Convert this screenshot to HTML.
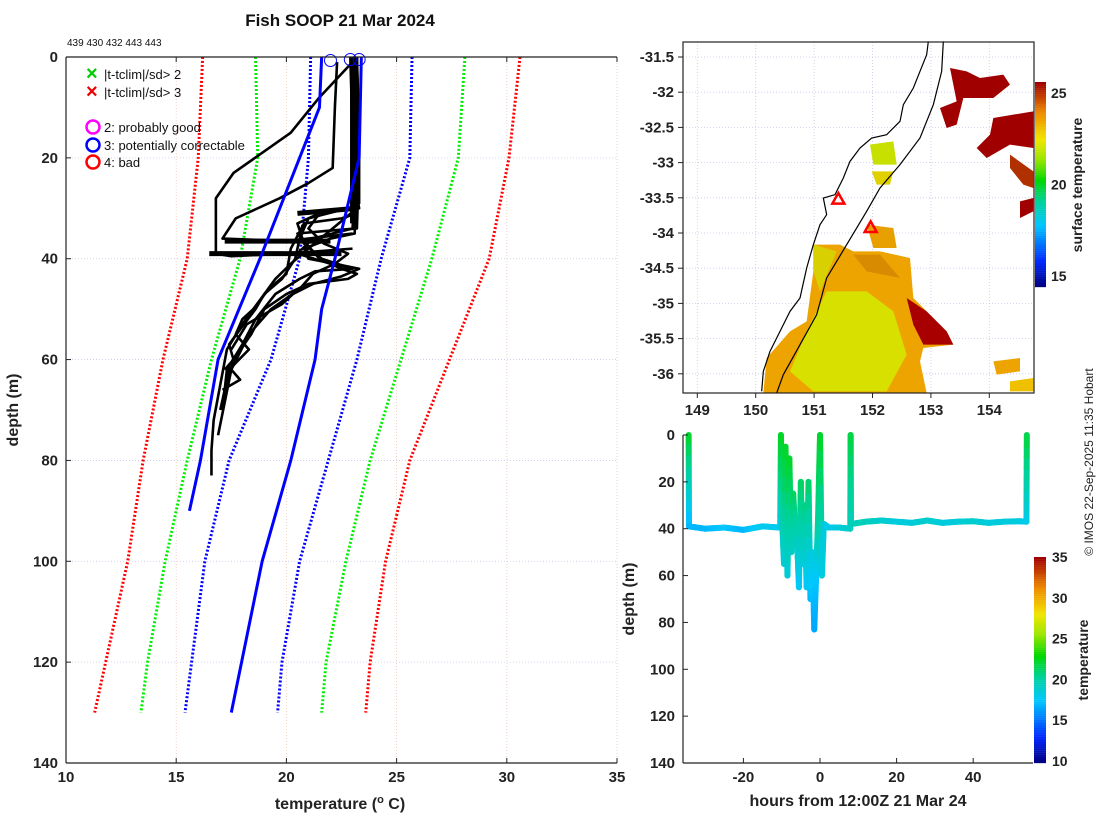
<!DOCTYPE html>
<html><head><meta charset="utf-8"><style>
html,body{margin:0;padding:0;background:#fff;}
svg{display:block;font-family:"Liberation Sans","DejaVu Sans",sans-serif;}
</style></head><body>
<svg id="fig" width="1100" height="820" viewBox="0 0 1100 820"></svg>
<script>
// ---------- data: main profile panel ----------
const climDepths = [0,20,40,60,80,100,120,130];
const climRedLo   = [16.2,16.0,15.5,14.4,13.5,12.8,11.8,11.3];
const climGreenLo = [18.6,18.7,17.9,16.6,15.5,14.5,13.7,13.4];
const climBlueLo  = [21.1,21.0,20.6,19.3,17.4,16.3,15.7,15.4];
const climBlueHi  = [25.7,25.6,24.3,23.2,21.9,20.6,19.8,19.6];
const climGreenHi = [28.1,27.8,26.6,25.2,23.8,22.7,21.8,21.6];
const climRedHi   = [30.6,30.1,29.2,27.4,25.6,24.5,23.8,23.6];
const blueProfileA_t = [21.6,21.5,20.6,18.8,16.9,16.1,15.6];
const blueProfileA_d = [0,10,20,40,60,80,90];
const blueProfileB_t = [23.4,23.3,22.2,21.6,21.3,20.2,18.9,17.5];
const blueProfileB_d = [0,20,40,50,60,80,100,130];
const profTemps = [
 [23,21.5,20.2,17.6,16.8,16.8,17.5,20,23],
 [22.3,22.2,22.1,21,19.7,17.7,17.1,20,23],
 [23.1,23.2,23.2,23.0,21.5,20.5,20.8,21.6,22.3,23.0],
 [23.2,23.3,23.3,22.8,21.0,20.6,20.4,19.8,19.0,18.6,17.9,17.4,17.6,17.2],
 [23.0,23.1,23.2,22.5,20.8,20.2,20.0,19.2,18.5,18.0,17.3,17.0,16.7,16.6,16.6],
 [23.2,23.3,23.2,21.8,20.5,21.5,22.5,23.2,22.8,21,20,19,18.4,17.6,17.5,17.9,17.1],
 [23.1,23.2,23.1,22.0,20.8,21.0,22.2,23.3,22.5,21.2,20.3,19.8,18.2,17.5],
 [23.0,23.1,23.2,21.0,20.2,19.5,19.0,18.5,18.0,17.7,18.3,17.4,17.0],
 [22.9,23.0,23.1,23.3,21.5,21.0,21.7,22.8,22.2,21.2,20.6,19.3,18.3,17.5,16.9],
 [23.2,23.2,23.0,21.2,20.5,22.0,23.0,21.3,20.6,19.5,18.6,18.0,17.3,17.1]
];
const profDepths = [
 [1,8,15,23,28,39,39.5,39,38],
 [1,10,22,25,28,32,36,36.5,35],
 [0,10,28,30,31,33,37,40,41,42],
 [0,15,29,30,32,36,40,44,47,50,54,57,60,62],
 [0,10,31,32,33,38,43,46,50,53,58,65,72,78,83],
 [0,20,34,34.5,35,40,42,43,44,45,47,50,55,60,62,64,66],
 [0,12,35,36,38,40,41,42,43.5,45,47,49,53,58],
 [0,10,30,38,41,44,47,50,52,55,58,62,70],
 [0,15,25,30,31,34,37,39,41,43,46,50,55,62,75],
 [0,20,34,36,39,41,42,42.5,44,47,52,57,62,70]
];
const flagTemps = [22.0,22.9,23.3];
const flagDepths = [0.7,0.5,0.5];
const xTicks = [10,15,20,25,30,35];
const yTicks = [0,20,40,60,80,100,120,140];
// ---------- data: bottom time-depth panel ----------
const trHours = [-34.3,-34.2,-30,-25,-20,-15,-10.4,-10.2,-9.8,-9.4,-9,-8.5,-8,-7.5,-7,-6.5,-6,-5.5,-5,-4.5,-4,-3.5,-3,-2.5,-2,-1.5,-1,-0.5,0,0.5,1,1.5,2.2,5,7.9,8,8.1,12,16,20,24,28,32,36,40,44,48,52,53.9,54];
const trDepths = [0,39,40,39.5,40.5,39,39.5,0,40,55,5,60,10,50,25,40,45,65,20,55,30,65,20,70,50,83,60,35,0,60,38,38.5,39.5,39.5,40,0,38,37,36.5,37,37.5,36.5,37.5,37,36.8,37.5,37,36.8,37,0];
const trTemps = [22.5,17,17,17.5,17,18,18,22.5,19.5,18.5,22.5,18.5,22.5,19,21.5,20,19.5,17.5,21.5,18.5,21,17.5,21.5,17,18.5,16.5,17.5,20.5,22.5,18.5,18.5,18.5,18,18.5,19,22,19.5,19.5,19,18.5,18.5,19,18.5,18.5,19,18.5,18.5,18.5,18,22];
const hrTicks = [-20,0,20,40];
const dTicks = [0,20,40,60,80,100,120,140];
const mapLonTicks = [149,150,151,152,153,154];
const mapLatTicks = [-31.5,-32,-32.5,-33,-33.5,-34,-34.5,-35,-35.5,-36];
const cb1Ticks = [15,20,25];
const cb2Ticks = [10,15,20,25,30,35];

const NS="http://www.w3.org/2000/svg";
const svg=document.getElementById('fig');
function mk(tag,attrs,parent){const e=document.createElementNS(NS,tag);for(const k in attrs)e.setAttribute(k,attrs[k]);(parent||svg).appendChild(e);return e;}
function txt(s,attrs,parent){const e=mk('text',attrs,parent);e.textContent=s;return e;}
function jet(v){
 const st=[[0,[0,0,130]],[0.12,[0,40,255]],[0.3,[0,200,255]],[0.42,[0,210,150]],[0.52,[0,215,0]],[0.62,[150,230,0]],[0.72,[240,230,0]],[0.85,[240,140,0]],[1,[160,0,0]]];
 v=Math.max(0,Math.min(1,v));
 for(let i=1;i<st.length;i++){if(v<=st[i][0]){const a=st[i-1],b=st[i];const f=(v-a[0])/(b[0]-a[0]);const c=a[1].map((x,j)=>Math.round(x+(b[1][j]-x)*f));return `rgb(${c})`;}}
 return 'rgb(160,0,0)';
}
const TB={'font-size':15,'font-weight':'bold',fill:'#222'};
// ===== main panel =====
const X0=66,X1=617,Y0=57,Y1=763;
const sx=t=>X0+(t-10)/(35-10)*(X1-X0);
const sy=d=>Y0+d/140*(Y1-Y0);
const gMain=mk('g',{});


xTicks.forEach(t=>{const l=mk('line',{x1:sx(t),x2:sx(t),y1:Y0,y2:Y1,stroke:'#e8c8b8','stroke-width':0.8,'stroke-dasharray':'1 2'},gMain);
 
 const tl=txt(t,Object.assign({x:sx(t),y:782,'text-anchor':'middle'},TB),gMain);
 
 mk('line',{x1:sx(t),x2:sx(t),y1:Y1,y2:Y1-5,stroke:'#222'},gMain);mk('line',{x1:sx(t),x2:sx(t),y1:Y0,y2:Y0+5,stroke:'#222'},gMain);});
yTicks.forEach(d=>{const l=mk('line',{x1:X0,x2:X1,y1:sy(d),y2:sy(d),stroke:'#c8c8e8','stroke-width':0.8,'stroke-dasharray':'1 2'},gMain);
 
 const tl=txt(d,Object.assign({x:58,y:sy(d)+5,'text-anchor':'end'},TB),gMain);
 
 mk('line',{x1:X0,x2:X0+5,y1:sy(d),y2:sy(d),stroke:'#222'},gMain);});
function pl(ts,ds,attrs,name){const p=mk('polyline',Object.assign({points:ts.map((t,i)=>sx(t)+','+sy(ds[i])).join(' '),fill:'none'},attrs),gMain);
 return p;}
const dot={'stroke-width':3,'stroke-dasharray':'2 2'};
pl(climRedLo,climDepths,Object.assign({stroke:'#f00'},dot),'clim-minus-3sd');
pl(climGreenLo,climDepths,Object.assign({stroke:'#0e0'},dot),'clim-minus-2sd');
pl(climBlueLo,climDepths,Object.assign({stroke:'#00f'},dot),'clim-minus-1sd');
pl(climBlueHi,climDepths,Object.assign({stroke:'#00f'},dot),'clim-plus-1sd');
pl(climGreenHi,climDepths,Object.assign({stroke:'#0e0'},dot),'clim-plus-2sd');
pl(climRedHi,climDepths,Object.assign({stroke:'#f00'},dot),'clim-plus-3sd');
profTemps.forEach((ts,i)=>{pl(ts,profDepths[i],{stroke:'#000','stroke-width':2.6,'stroke-linejoin':'round'},'xbt-profile');});
pl([16.5,22.5],[39,39],{stroke:'#000','stroke-width':5},'profile-step');
pl([17.2,22.0],[36.5,36.5],{stroke:'#000','stroke-width':5},'profile-step');
pl([20.5,23.2],[31,30],{stroke:'#000','stroke-width':5},'profile-step');
pl([23.0,23.0],[2,33],{stroke:'#000','stroke-width':5},'profile-step');
pl(blueProfileA_t,blueProfileA_d,{stroke:'#00f','stroke-width':3},'flagged-profile');
pl(blueProfileB_t,blueProfileB_d,{stroke:'#00f','stroke-width':3},'flagged-profile');
flagTemps.forEach((t,i)=>{const c=mk('circle',{cx:sx(t),cy:sy(flagDepths[i]),r:6,fill:'none',stroke:'#00f','stroke-width':1},gMain);
 });
mk('line',{x1:X0,x2:X0,y1:Y0,y2:Y1,stroke:'#222','stroke-width':1.2},gMain);
mk('line',{x1:X0,x2:X1,y1:Y1,y2:Y1,stroke:'#222','stroke-width':1.2},gMain);
mk('line',{x1:X0,x2:X1,y1:Y0,y2:Y0,stroke:'#222','stroke-width':1.2},gMain);
const lg=mk('g',{});
[['×','#0c0','|t-tclim|/sd> 2',74],['×','#e00','|t-tclim|/sd> 3',92]].forEach(r=>{txt(r[0],{x:86,y:r[3]+6,'font-size':20,'font-weight':'bold',fill:r[1]},lg);txt(r[2],{x:104,y:r[3]+5,'font-size':13,fill:'#111'},lg);});
[['#f0f','2: probably good',127],['#00f','3: potentially correctable',145],['#f00','4: bad',162]].forEach(r=>{mk('circle',{cx:93,cy:r[2],r:6.5,fill:'none',stroke:r[0],'stroke-width':2.5},lg);txt(r[1],{x:104,y:r[2]+5,'font-size':13,fill:'#111'},lg);});
const t1=txt('Fish SOOP 21 Mar 2024',{x:340,y:26,'text-anchor':'middle','font-size':17,'font-weight':'bold',fill:'#111'});

const t2=txt('439 430 432 443 443',{x:67,y:46,'font-size':10,fill:'#111'});

const t3=txt('depth (m)',{x:18,y:410,'text-anchor':'middle','font-size':16,'font-weight':'bold',fill:'#222',transform:'rotate(-90 18 410)'});

const t4=mk('text',{x:340,y:809,'text-anchor':'middle','font-size':16,'font-weight':'bold',fill:'#222'});
t4.innerHTML='temperature (<tspan dy="-6" font-size="11">o</tspan><tspan dy="6"> C)</tspan>';

// ===== map panel =====
const MX0=683,MX1=1034,MY0=42,MY1=393;
const mlon=l=>697.3+(l-149)*58.4;
const mlat=l=>57+(-31.5-l)/0.5*35.2;
const gm=mk('g',{});
mapLonTicks.forEach(l=>{mk('line',{x1:mlon(l),x2:mlon(l),y1:MY0,y2:MY1,stroke:'#c8c8e8','stroke-width':0.8,'stroke-dasharray':'1 2'},gm);
 mk('line',{x1:mlon(l),x2:mlon(l),y1:MY1,y2:MY1+5,stroke:'#222'},gm);
 const e=txt(l,Object.assign({x:mlon(l),y:415,'text-anchor':'middle'},TB),gm);});
mapLatTicks.forEach(l=>{mk('line',{x1:MX0,x2:MX1,y1:mlat(l),y2:mlat(l),stroke:'#c8c8e8','stroke-width':0.8,'stroke-dasharray':'1 2'},gm);
 mk('line',{x1:MX0-5,x2:MX0,y1:mlat(l),y2:mlat(l),stroke:'#222'},gm);
 const e=txt(l,Object.assign({x:674,y:mlat(l)+5,'text-anchor':'end'},TB),gm);});
function zp(arr){const o=[];for(let i=0;i<arr.length;i+=2)o.push((680+arr[i]/3)+','+(38+arr[i+1]/3));return o.join(' ');}
function blob(arr,fill,name){const p=mk('polygon',{points:zp(arr),fill:fill},gm);}
blob([400,620,480,620,520,640,600,640,690,660,700,780,740,820,800,880,820,920,730,930,720,970,740,1065,250,1065,260,960,330,880,380,850,400,700],'#eea400','warm-water');
blob([440,760,560,760,640,820,680,950,620,1060,400,1060,330,1000,380,880],'#d8e000','shelf-water');
blob([400,620,470,640,420,760,400,700],'#d8d000','inshore-water');
blob([520,650,600,650,660,720,560,700],'#d88a00','warm-core');
blob([680,780,740,820,800,880,820,920,730,920,700,860],'#a80000','hot-filament');
blob([810,90,860,100,900,120,970,110,990,140,940,180,850,180,830,260,800,270,780,210,830,190],'#a00000','ne-patch');
blob([940,240,1060,220,1060,330,990,320,920,360,890,330,930,290],'#a00000','ne-patch');
blob([990,350,1060,400,1060,450,1030,440,990,390],'#b03000','ne-patch');
blob([1020,490,1060,480,1060,520,1020,540],'#a00000','ne-patch');
blob([570,320,640,310,650,380,580,380],'#c8e000','coastal-patch');
blob([575,400,640,400,630,440,590,440],'#e0d000','coastal-patch');
blob([560,560,640,570,650,630,580,630],'#e8a000','coastal-patch');
blob([940,970,1020,960,1020,1000,950,1010],'#eea400','offshore-patch');
blob([990,1030,1060,1020,1060,1060,990,1060],'#eec000','offshore-patch');
const coast=mk('polyline',{points:zp([745,10,740,50,720,100,700,150,670,200,660,250,620,290,575,300,540,330,510,370,490,420,465,470,430,480,440,530,420,560,400,620,380,690,360,780,330,820,300,880,270,940,250,1000,245,1060]),fill:'none',stroke:'#000','stroke-width':1.2},gm);

const iso=mk('polyline',{points:zp([790,10,785,100,760,200,720,300,660,380,600,450,560,520,500,620,440,720,410,830,360,920,310,1010,290,1065]),fill:'none',stroke:'#000','stroke-width':1.2},gm);

[[475,485],[572,570]].forEach(p=>{const m=mk('polygon',{points:zp([p[0],p[1]-20,p[0]+18,p[1]+12,p[0]-18,p[1]+12]),fill:'none',stroke:'#f00','stroke-width':2.5},gm);
 });
mk('rect',{x:MX0,y:MY0,width:MX1-MX0,height:MY1-MY0,fill:'none',stroke:'#222','stroke-width':1.2},gm);
const cb1=mk('g',{});
for(let i=0;i<100;i++){mk('rect',{x:1035,y:82+i*2.05,width:11,height:2.2,fill:jet(1-i/99)},cb1);}
const c1y=v=>93+(25-v)/10*183;
cb1Ticks.forEach(v=>{txt(v,{x:1051,y:c1y(v)+5,'font-size':14,'font-weight':'bold',fill:'#222'},cb1);});
txt('surface temperature',{x:1082,y:185,'text-anchor':'middle','font-size':14,'font-weight':'bold',fill:'#222',transform:'rotate(-90 1082 185)'},cb1);
// ===== bottom panel =====
const BX0=683,BX1=1033,BY0=435,BY1=763;
const bx=h=>820+h*3.83;
const by=d=>BY0+d/140*(BY1-BY0);
const gb=mk('g',{});
for(let i=1;i<trHours.length;i++){
 const n=8;
 for(let k=0;k<n;k++){
  const f0=k/n,f1=(k+1)/n,fm=(k+0.5)/n;
  const h0=trHours[i-1]+(trHours[i]-trHours[i-1])*f0,h1=trHours[i-1]+(trHours[i]-trHours[i-1])*f1;
  const d0=trDepths[i-1]+(trDepths[i]-trDepths[i-1])*f0,d1=trDepths[i-1]+(trDepths[i]-trDepths[i-1])*f1;
  const tm=trTemps[i-1]+(trTemps[i]-trTemps[i-1])*fm;
  const s=mk('line',{x1:bx(h0),y1:by(d0),x2:bx(h1),y2:by(d1),stroke:jet((tm-10)/25),'stroke-width':6,'stroke-linecap':'round'},gb);
  
 }}
hrTicks.forEach(h=>{mk('line',{x1:bx(h),x2:bx(h),y1:BY1,y2:BY1-5,stroke:'#222'},gb);
 const e=txt(h,Object.assign({x:bx(h),y:782,'text-anchor':'middle'},TB),gb);});
dTicks.forEach(d=>{mk('line',{x1:BX0,x2:BX0+5,y1:by(d),y2:by(d),stroke:'#222'},gb);
 const e=txt(d,Object.assign({x:675,y:by(d)+5,'text-anchor':'end'},TB),gb);});
mk('line',{x1:BX0,x2:BX0,y1:BY0,y2:BY1,stroke:'#222','stroke-width':1.2},gb);
mk('line',{x1:BX0,x2:BX1,y1:BY1,y2:BY1,stroke:'#222','stroke-width':1.2},gb);
const bt=txt('hours from 12:00Z 21 Mar 24',{x:858,y:806,'text-anchor':'middle','font-size':16,'font-weight':'bold',fill:'#222'},gb);

const by2=txt('depth (m)',{x:634,y:599,'text-anchor':'middle','font-size':16,'font-weight':'bold',fill:'#222',transform:'rotate(-90 634 599)'},gb);

const cb2=mk('g',{});
for(let i=0;i<100;i++){mk('rect',{x:1034,y:557+i*2.06,width:12,height:2.2,fill:jet(1-i/99)},cb2);}
const c2y=v=>761-(v-10)/25*204;
cb2Ticks.forEach(v=>{txt(v,{x:1052,y:c2y(v)+5,'font-size':14,'font-weight':'bold',fill:'#222'},cb2);});
txt('temperature',{x:1088,y:660,'text-anchor':'middle','font-size':14,'font-weight':'bold',fill:'#222',transform:'rotate(-90 1088 660)'},cb2);
const cr=txt('© IMOS 22-Sep-2025 11:35 Hobart',{x:1093,y:462,'text-anchor':'middle','font-size':12,fill:'#222',transform:'rotate(-90 1093 462)'});

</script>
</body></html>
